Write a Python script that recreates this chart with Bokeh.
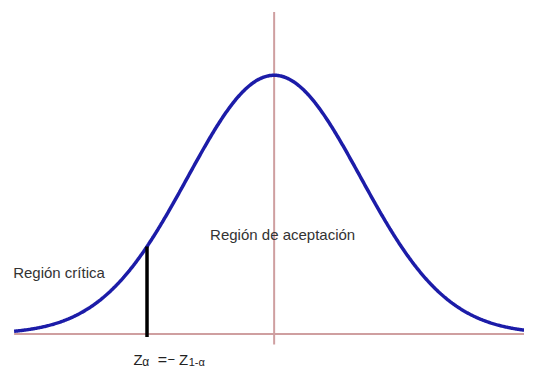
import numpy as np
from bokeh.plotting import figure
from bokeh.models import Range1d
from bokeh.core.properties import value
from bokeh.embed import file_html
from bokeh.resources import INLINE

# --- chart content ---
mean = 0.0
sd = 1.0
z_start = -3.011
z_end = 2.899
z_crit = -1.472          # Z_alpha
labels = ["Región crítica", "Región de aceptación"]
formula_parts = ["Z", "α", "=", "−", "Z", "1-α"]

# standard normal density (the curve shown in the picture)
z = np.linspace(z_start, z_end, 600)
pdf = np.exp(-0.5 * ((z - mean) / sd) ** 2) / (sd * np.sqrt(2 * np.pi))
pdf_crit = float(np.exp(-0.5 * ((z_crit - mean) / sd) ** 2) / (sd * np.sqrt(2 * np.pi)))

p = figure(width=524, height=369, output_backend="svg", toolbar_location=None,
           x_range=Range1d(-3.1685, 2.8989), y_range=Range1d(-0.05467, 0.5142),
           min_border=0, background_fill_color="white", border_fill_color="white")
p.axis.visible = False
p.xgrid.visible = False
p.ygrid.visible = False
p.outline_line_color = None

axis_col = "#cf9fa0"
# horizontal axis line
p.segment(x0=[z_start], y0=[0], x1=[z_end], y1=[0], line_color=axis_col, line_width=2)
# vertical line at the mean
p.segment(x0=[mean], y0=[0.4965], x1=[mean], y1=[-0.01625], line_color=axis_col, line_width=2)

# normal curve
p.line(z, pdf, line_color="#1c1ca8", line_width=3.5)

# critical value line
p.segment(x0=[z_crit], y0=[pdf_crit], x1=[z_crit], y1=[-0.0044], line_color="black", line_width=3.5)

font = value("Liberation Sans")
txt_col = "#333333"
p.text(x=[-3.022], y=[0.0946], text=[labels[0]], text_font=font, text_font_size="15px",
       text_color=txt_col, text_baseline="alphabetic", text_align="left")
p.text(x=[-0.7416], y=[0.1537], text=[labels[1]], text_font=font, text_font_size="15px",
       text_color=txt_col, text_baseline="alphabetic", text_align="left")

# formula: Z_alpha = - Z_(1-alpha)
fx = [-1.629, -1.528, -1.348, -1.236, -1.101, -0.989]
fy = [-0.0390, -0.0425, -0.0390, -0.0390, -0.0390, -0.0425]
fs = ["15px", "12px", "16px", "13px", "15px", "11px"]
for xi, yi, t, s in zip(fx, fy, formula_parts, fs):
    p.text(x=[xi], y=[yi], text=[t], text_font=font, text_font_size=s,
           text_color="#222222", text_baseline="alphabetic", text_align="left")

open("out.html", "w").write(file_html(p, INLINE))
